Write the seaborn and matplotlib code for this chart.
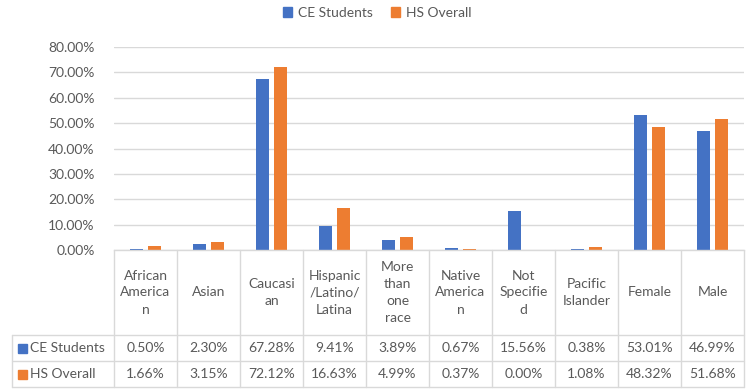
import matplotlib
matplotlib.use("Agg")
import matplotlib.pyplot as plt
from matplotlib.lines import Line2D
from matplotlib.patches import Rectangle
from matplotlib.ticker import FuncFormatter
import pandas as pd
import seaborn as sns

# ---- data ----
categories = ["African American", "Asian", "Caucasian", "Hispanic/Latino/Latina",
              "More than one race", "Native American", "Not Specified",
              "Pacific Islander", "Female", "Male"]
header_labels = ["African\nAmerica\nn", "Asian", "Caucasi\nan", "Hispanic\n/Latino/\nLatina",
                 "More\nthan\none\nrace", "Native\nAmerica\nn", "Not\nSpecifie\nd",
                 "Pacific\nIslander", "Female", "Male"]
series_names = ["CE Students", "HS Overall"]
ce_students = [0.50, 2.30, 67.28, 9.41, 3.89, 0.67, 15.56, 0.38, 53.01, 46.99]
hs_overall = [1.66, 3.15, 72.12, 16.63, 4.99, 0.37, 0.00, 1.08, 48.32, 51.68]
y_ticks = [0, 10, 20, 30, 40, 50, 60, 70, 80]

colors = ["#4472C4", "#ED7D31"]
text_color = "#595959"
line_color = "#D9D9D9"
font = "Lato"
fs = 10

df = pd.DataFrame({
    "category": categories * 2,
    "series": [series_names[0]] * len(categories) + [series_names[1]] * len(categories),
    "value": ce_students + hs_overall,
})

sns.set_theme(style="white")
plt.rcParams["font.family"] = [font, "DejaVu Sans"]

W, H = 751, 392
fig = plt.figure(figsize=(W / 100, H / 100), dpi=100)

# plot area in pixel coordinates
left, right, top, bottom = 114, 744, 47, 250
ax = fig.add_axes([left / W, 1 - bottom / H, (right - left) / W, (bottom - top) / H])

sns.barplot(data=df, x="category", y="value", hue="series", order=categories,
            hue_order=series_names, palette=colors, width=0.572, gap=0.224,
            ax=ax, legend=False, saturation=1, edgecolor="none")

ax.set_xlim(-0.5, len(categories) - 0.5)
ax.set_ylim(0, 80)
ax.set_yticks(y_ticks)
ax.yaxis.set_major_formatter(FuncFormatter(lambda v, p: f"{v:.2f}%"))
ax.tick_params(axis="y", length=0, pad=14, labelcolor=text_color, labelsize=fs)
ax.tick_params(axis="x", length=0, labelbottom=False)
ax.set_xlabel("")
ax.set_ylabel("")
for lbl in ax.get_yticklabels():
    lbl.set_fontfamily([font, "DejaVu Sans"])
ax.grid(axis="y", color=line_color, linewidth=1)
ax.set_axisbelow(True)
for s in ["top", "right", "left"]:
    ax.spines[s].set_visible(False)
ax.spines["bottom"].set_color(line_color)
ax.spines["bottom"].set_linewidth(1)


def fx(x):
    return x / W


def fy(y):
    return 1 - y / H


def hline(x0, x1, y):
    fig.add_artist(Line2D([fx(x0), fx(x1)], [fy(y), fy(y)], color=line_color, lw=1))


def vline(x, y0, y1):
    fig.add_artist(Line2D([fx(x), fx(x)], [fy(y0), fy(y1)], color=line_color, lw=1))


# ---- data table below the axis ----
table_left = 12
row_edges = [250, 335, 361, 387]
cell_w = (right - left) / len(categories)
col_edges = [left + i * cell_w for i in range(len(categories) + 1)]

for y in row_edges[1:]:
    hline(table_left, right, y)
for x in col_edges:
    vline(x, row_edges[0], row_edges[-1])
vline(table_left, row_edges[1], row_edges[-1])

for i, lab in enumerate(header_labels):
    cx = left + (i + 0.5) * cell_w
    cy = (row_edges[0] + row_edges[1]) / 2
    fig.text(fx(cx), fy(cy), lab, ha="center", va="center", color=text_color,
             fontsize=fs, linespacing=1.5, family=[font, "DejaVu Sans"])

for r, (name, vals, col) in enumerate(zip(series_names, [ce_students, hs_overall], colors)):
    cy = (row_edges[r + 1] + row_edges[r + 2]) / 2
    fig.add_artist(Rectangle((fx(18), fy(cy + 4.5)), 9 / W, 9 / H, color=col,
                             transform=fig.transFigure))
    fig.text(fx(30), fy(cy), name, ha="left", va="center", color=text_color,
             fontsize=fs, family=[font, "DejaVu Sans"])
    for i, v in enumerate(vals):
        cx = left + (i + 0.5) * cell_w
        fig.text(fx(cx), fy(cy), f"{v:.2f}%", ha="center", va="center",
                 color=text_color, fontsize=fs, family=[font, "DejaVu Sans"])

# ---- legend ----
handles = [Rectangle((0, 0), 1, 1, color=c) for c in colors]
fig.legend(handles, series_names, loc="center", bbox_to_anchor=(fx(377), fy(13)),
           ncol=2, frameon=False, handlelength=0.7, handleheight=0.7,
           handletextpad=0.4, columnspacing=1.3,
           prop={"family": [font, "DejaVu Sans"], "size": fs}, labelcolor=text_color)

fig.savefig("out.png", dpi=100)
